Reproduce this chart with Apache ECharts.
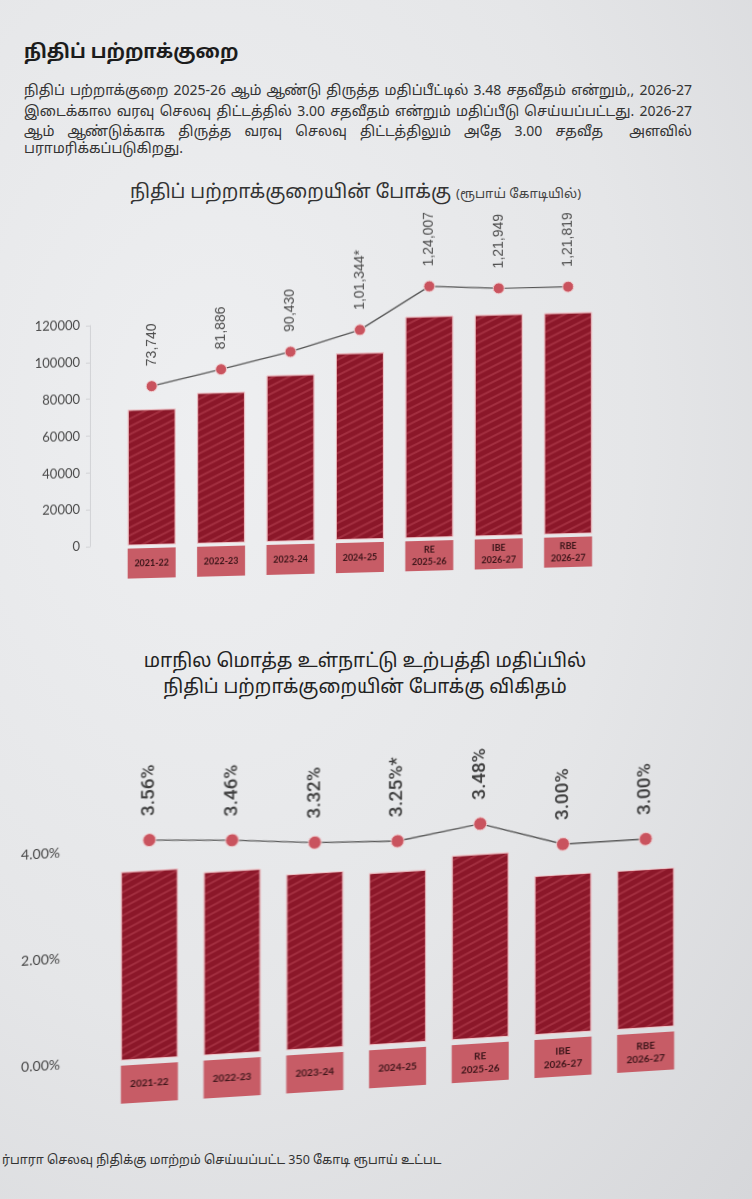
<!DOCTYPE html>
<html>
<head>
<meta charset="utf-8">
<script src="https://cdn.jsdelivr.net/npm/echarts@6/dist/echarts.min.js"></script>
<style>
  html, body { margin: 0; padding: 0; width: 752px; height: 1199px; overflow: hidden; }
  body {
    position: relative;
    background: radial-gradient(ellipse at 28% 35%, #eeeff1 0%, #e5e6e8 55%, #d6d7da 100%);
    font-family: 'Noto Sans', 'Noto Sans Tamil', 'Lato', sans-serif;
    color: #2f2f2f;
  }
  .abs { position: absolute; }
  #h1 { left: 24px; top: 38px; font-size: 19px; font-weight: bold; color: #1c1c1c; }
  .p { left: 24px; width: 668px; font-size: 14px; color: #333; line-height: 18px;
       text-align: justify; text-align-last: justify; white-space: nowrap; }
  .p.last { text-align-last: left; }
  #t1 { left: 130px; top: 178px; font-size: 19px; color: #333; white-space: nowrap; }
  #t1 span { font-size: 13px; color: #444; }
  #t2 { left: 0; width: 730px; top: 647px; font-size: 19px; line-height: 26px; color: #222; text-align: center; }
  #foot { left: 2px; top: 1151px; font-size: 12.5px; color: #333; white-space: nowrap; }
  #c1 { left: 0; top: 200px; width: 752px; height: 400px;
        transform: skewY(-1.5deg); transform-origin: 151px 345px; }
  #c2 { left: 0; top: 700px; width: 752px; height: 440px;
        transform: skewY(-3.55deg); transform-origin: 149px 359px; }
</style>
</head>
<body>
<div id="h1" class="abs">நிதிப் பற்றாக்குறை</div>
<div class="abs p" style="top:81px">நிதிப் பற்றாக்குறை 2025-26 ஆம் ஆண்டு திருத்த மதிப்பீட்டில் 3.48 சதவீதம் என்றும்,, 2026-27</div>
<div class="abs p" style="top:102px">இடைக்கால வரவு செலவு திட்டத்தில் 3.00 சதவீதம் என்றும் மதிப்பீடு செய்யப்பட்டது. 2026-27</div>
<div class="abs p" style="top:122px">ஆம் ஆண்டுக்காக திருத்த வரவு செலவு திட்டத்திலும் அதே 3.00 சதவீத&nbsp; அளவில்</div>
<div class="abs p last" style="top:139px">பராமரிக்கப்படுகிறது.</div>
<div id="t1" class="abs">நிதிப் பற்றாக்குறையின் போக்கு <span>(ரூபாய் கோடியில்)</span></div>
<div id="c1" class="abs"></div>
<div id="t2" class="abs">மாநில மொத்த உள்நாட்டு உற்பத்தி மதிப்பில்<br>நிதிப் பற்றாக்குறையின் போக்கு விகிதம்</div>
<div id="c2" class="abs"></div>
<div id="foot" class="abs">ர்பாரா செலவு நிதிக்கு மாற்றம் செய்யப்பட்ட 350 கோடி ரூபாய் உட்பட</div>
<script>
// ---- data ----
const categories = ['2021-22', '2022-23', '2023-24', '2024-25', 'RE\n2025-26', 'IBE\n2026-27', 'RBE\n2026-27'];
const deficitCrore = [73740, 81886, 90430, 101344, 124007, 121949, 121819];
const deficitPctGsdp = [3.56, 3.46, 3.32, 3.25, 3.48, 3.00, 3.00];
const valueNotes = ['', '', '', '*', '', '', ''];
const croreTickLabels = ['0', '20000', '40000', '60000', '80000', '100000', '120000'];
const pctTickLabels = ['0.00%', '2.00%', '4.00%'];

// ---- helpers ----
function indianFormat(n) {
  const s = String(n);
  if (s.length <= 3) return s;
  const last3 = s.slice(-3);
  let rest = s.slice(0, -3);
  const parts = [];
  while (rest.length > 2) { parts.unshift(rest.slice(-2)); rest = rest.slice(0, -2); }
  if (rest) parts.unshift(rest);
  return parts.join(',') + ',' + last3;
}
const numFont = "'Lato', 'Roboto', sans-serif";
const BAR = '#8b1729';
const BOX = '#c75c66';
const DOT = '#c9535e';

function catLabel(fontSize, lineH, singleH, width, pad) {
  return {
    interval: 0, margin: 0,
    backgroundColor: BOX, width: width, padding: [pad, 0], align: 'center',
    formatter: v => v.indexOf('\n') >= 0
      ? v.split('\n').map(s => '{t|' + s + '}').join('\n')
      : '{s|' + v + '}',
    rich: {
      t: { fontSize: fontSize, fontWeight: 'bold', color: '#3a1418', lineHeight: lineH, fontFamily: numFont, align: 'center' },
      s: { fontSize: fontSize, fontWeight: 'bold', color: '#3a1418', lineHeight: singleH, fontFamily: numFont, align: 'center' }
    }
  };
}
const stripe = {
  symbol: 'rect', symbolSize: 1, color: 'rgba(214, 96, 112, 0.33)',
  dashArrayX: [1, 0], dashArrayY: [1.1, 4.4], rotation: -Math.PI / 7
};

// ---- chart 1 ----
const c1 = echarts.init(document.getElementById('c1'), null, { renderer: 'canvas' });
const crMin = Number(croreTickLabels[0]);
const crMax = Number(croreTickLabels[croreTickLabels.length - 1]);
const crStep = Number(croreTickLabels[1]) - crMin;
const crLift = 12500;
c1.setOption({
  animation: false,
  grid: { left: 117, width: 486, top: 124, height: 221 },
  xAxis: {
    type: 'category', data: categories,
    axisLine: { show: false }, axisTick: { show: false },
    axisLabel: Object.assign(catLabel(9, 12, 24, 48, 3), { margin: 3 })
  },
  yAxis: [
    {
      type: 'value', min: crMin, max: crMax, interval: crStep, offset: 27,
      axisLine: { show: true, lineStyle: { color: '#d2d3d6', width: 1 } },
      axisTick: { show: true, length: 4, lineStyle: { color: '#d2d3d6' } },
      splitLine: { show: false },
      axisLabel: { margin: 10, fontSize: 13, color: '#4a4a4a', fontFamily: numFont,
                   formatter: v => croreTickLabels[Math.round((v - crMin) / crStep)] }
    },
    { type: 'value', show: false, min: crMin - crLift, max: crMax - crLift }
  ],
  series: [
    {
      type: 'bar', data: deficitCrore, barWidth: 48, z: 2,
      itemStyle: { color: BAR, borderColor: 'rgba(238,196,200,0.8)', borderWidth: 1, decal: stripe }
    },
    {
      type: 'line', yAxisIndex: 1, data: deficitCrore, z: 3, clip: false,
      symbol: 'circle', symbolSize: 11,
      lineStyle: { color: '#555', width: 1.3 },
      itemStyle: { color: DOT, borderColor: '#f0d0d2', borderWidth: 1 },
      label: {
        show: true, position: 'top', rotate: 90, align: 'left', verticalAlign: 'middle',
        distance: 14, fontSize: 14, color: '#4d4d4d', fontFamily: "'Liberation Sans', Arial, sans-serif",
        formatter: p => indianFormat(p.value) + valueNotes[p.dataIndex]
      }
    }
  ]
});

// ---- chart 2 ----
const c2 = echarts.init(document.getElementById('c2'), null, { renderer: 'canvas' });
const pMin = parseFloat(pctTickLabels[0]);
const pMax = parseFloat(pctTickLabels[pctTickLabels.length - 1]);
const pStep = parseFloat(pctTickLabels[1]) - pMin;
const pLift = 0.57;
c2.setOption({
  animation: false,
  grid: { left: 108, width: 579, top: 147, height: 212 },
  xAxis: {
    type: 'category', data: categories,
    axisLine: { show: false }, axisTick: { show: false },
    axisLabel: Object.assign(catLabel(10, 13, 26, 57, 6), { margin: 5 })
  },
  yAxis: [
    {
      type: 'value', min: pMin, max: pMax, interval: pStep,
      axisLine: { show: false }, axisTick: { show: false }, splitLine: { show: false },
      axisLabel: { margin: 48, fontSize: 14, color: '#444', fontFamily: numFont,
                   formatter: v => pctTickLabels[Math.round((v - pMin) / pStep)] }
    },
    { type: 'value', show: false, min: pMin - pLift, max: pMax - pLift }
  ],
  series: [
    {
      type: 'bar', data: deficitPctGsdp, barWidth: 57, z: 2,
      itemStyle: { color: BAR, borderColor: 'rgba(238,196,200,0.8)', borderWidth: 1, decal: stripe }
    },
    {
      type: 'line', yAxisIndex: 1, data: deficitPctGsdp, z: 3, clip: false,
      symbol: 'circle', symbolSize: 13,
      lineStyle: { color: '#5a5a5a', width: 1.4 },
      itemStyle: { color: DOT, borderColor: '#f0d0d2', borderWidth: 1 },
      label: {
        show: true, position: 'top', rotate: 90, align: 'left', verticalAlign: 'middle',
        distance: 17, fontSize: 19, fontWeight: 500, color: '#3d3d3d', fontFamily: "'Roboto', 'Lato', sans-serif",
        formatter: p => p.value.toFixed(2) + '%' + valueNotes[p.dataIndex]
      }
    }
  ]
});
</script>
</body>
</html>
